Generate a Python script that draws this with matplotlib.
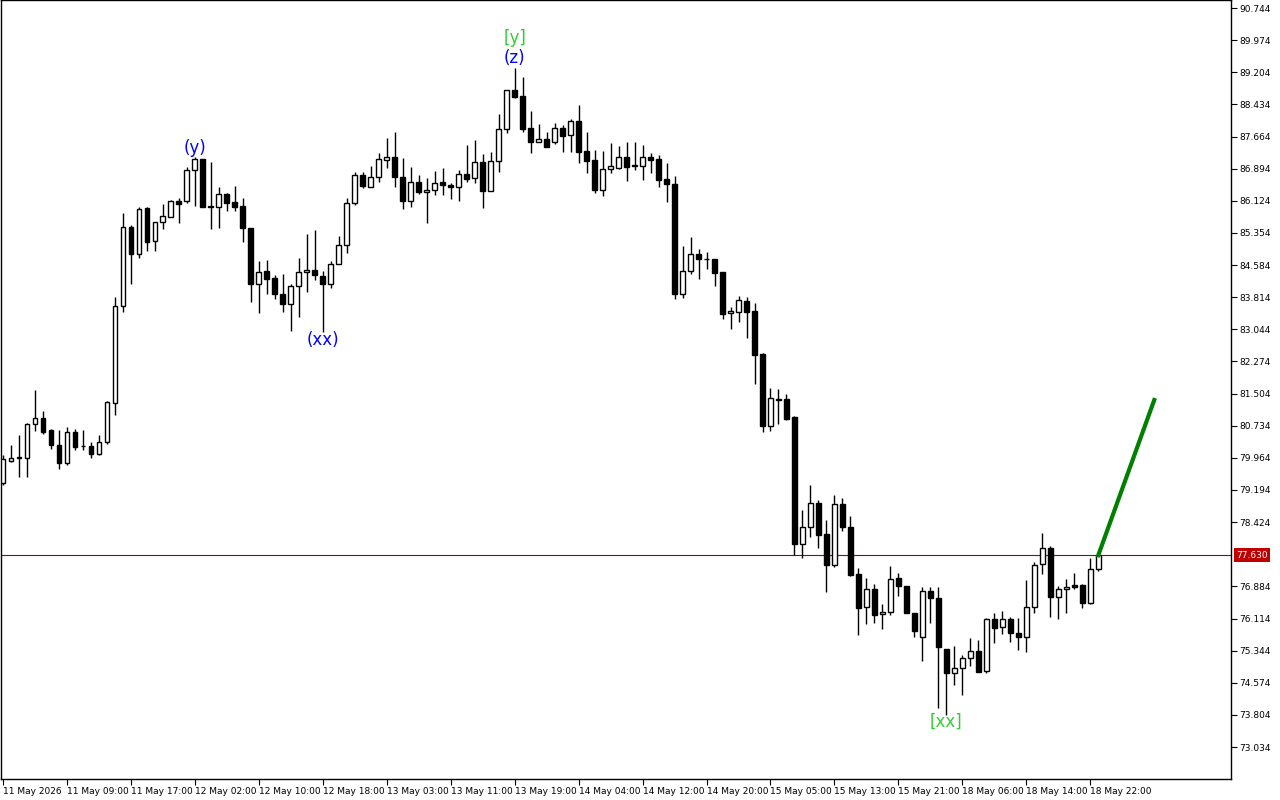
import matplotlib.pyplot as plt
import numpy as np

# OHLC data, one hourly candle per entry
opens = [79.36, 79.89, 79.98, 79.96, 80.78, 80.92, 80.63, 80.27, 79.84, 80.58,
         80.26, 80.25, 80.06, 80.34, 81.28, 83.60, 85.50, 84.85, 85.95, 85.16,
         85.62, 85.74, 86.12, 86.12, 86.86, 87.13, 85.99, 85.98, 86.29, 86.10,
         86.00, 85.47, 84.13, 84.44, 84.27, 83.89, 83.65, 84.08, 84.42, 84.47,
         84.32, 84.13, 84.61, 85.07, 86.07, 86.74, 86.45, 86.69, 87.10, 87.17,
         86.69, 86.12, 86.57, 86.34, 86.38, 86.57, 86.50, 86.45, 86.77, 86.67,
         87.05, 86.36, 87.08, 87.84, 88.78, 88.64, 87.87, 87.53, 87.60, 87.53,
         87.87, 87.70, 88.04, 87.32, 87.10, 86.38, 86.89, 86.91, 87.17, 86.97,
         86.96, 87.17, 87.13, 86.65, 86.53, 83.89, 84.44, 84.85, 84.74, 84.73,
         84.42, 83.43, 83.46, 83.72, 83.48, 82.45, 80.73, 81.38, 81.37, 80.94,
         77.90, 78.31, 78.88, 78.14, 77.40, 78.86, 78.31, 77.18, 76.39, 76.82,
         76.22, 76.27, 77.09, 76.89, 76.25, 75.67, 76.77, 76.61, 75.38, 74.81,
         74.93, 75.17, 75.34, 74.86, 76.10, 75.91, 76.10, 75.77, 75.67, 76.39,
         77.42, 77.80, 76.63, 76.82, 76.92, 76.92, 76.49, 77.30]
closes = [79.94, 79.96, 79.96, 80.78, 80.92, 80.58, 80.27, 79.84, 80.58, 80.22,
          80.24, 80.06, 80.34, 81.30, 83.60, 85.50, 84.85, 85.93, 85.14, 85.62,
          85.76, 86.12, 86.05, 86.86, 87.13, 85.98, 85.97, 86.29, 86.07, 85.98,
          85.47, 84.13, 84.42, 84.25, 83.89, 83.65, 84.08, 84.42, 84.47, 84.35,
          84.13, 84.61, 85.07, 86.07, 86.74, 86.48, 86.69, 87.13, 87.17, 86.69,
          86.12, 86.57, 86.34, 86.38, 86.55, 86.50, 86.45, 86.77, 86.65, 87.05,
          86.36, 87.08, 87.84, 88.78, 88.61, 87.84, 87.53, 87.60, 87.41, 87.87,
          87.68, 88.04, 87.29, 87.08, 86.38, 86.89, 86.96, 87.17, 86.93, 86.95,
          87.17, 87.10, 86.62, 86.53, 83.89, 84.44, 84.85, 84.73, 84.72, 84.39,
          83.41, 83.48, 83.75, 83.46, 82.43, 80.73, 81.40, 81.36, 80.89, 77.90,
          78.31, 78.88, 78.11, 77.40, 78.86, 78.31, 77.16, 76.37, 76.82, 76.20,
          76.27, 77.06, 76.89, 76.25, 75.81, 76.77, 76.61, 75.43, 74.81, 74.93,
          75.17, 75.34, 74.83, 76.10, 75.89, 76.10, 75.77, 75.67, 76.39, 77.40,
          77.80, 76.63, 76.82, 76.87, 76.87, 76.49, 77.30, 77.63]
highs = [80.03, 80.27, 80.51, 80.80, 81.59, 81.09, 80.66, 80.63, 80.70, 80.66,
         80.63, 80.34, 80.51, 81.33, 83.82, 85.83, 85.54, 85.98, 85.98, 85.62,
         86.05, 86.14, 86.19, 86.93, 87.17, 87.13, 87.06, 86.45, 86.31, 86.48,
         86.19, 85.47, 84.68, 84.70, 84.35, 84.37, 84.13, 84.75, 85.33, 85.42,
         84.44, 84.68, 85.28, 86.19, 86.81, 86.81, 86.96, 87.27, 87.63, 87.77,
         87.15, 86.93, 86.74, 86.67, 86.84, 86.91, 86.55, 86.86, 87.46, 87.58,
         87.25, 87.29, 88.20, 88.78, 89.31, 89.09, 88.28, 87.96, 87.77, 87.99,
         87.94, 88.08, 88.42, 87.77, 87.34, 87.32, 87.51, 87.44, 87.53, 87.53,
         87.46, 87.27, 87.22, 87.03, 86.72, 85.04, 85.26, 84.97, 84.90, 84.73,
         84.42, 83.58, 83.84, 83.82, 83.67, 82.48, 81.63, 81.61, 81.49, 80.97,
         78.71, 79.31, 78.95, 78.47, 79.07, 79.00, 78.57, 77.32, 77.09, 76.94,
         76.46, 77.37, 77.20, 76.89, 76.25, 76.87, 76.87, 76.87, 75.38, 75.46,
         75.24, 75.65, 75.60, 76.13, 76.25, 76.29, 76.15, 76.13, 77.04, 77.47,
         78.16, 77.85, 76.89, 77.06, 77.20, 76.94, 77.56, 77.66]
lows = [79.31, 79.87, 79.51, 79.51, 80.61, 80.54, 80.18, 79.70, 79.79, 80.15,
        80.15, 79.96, 80.03, 80.30, 80.99, 83.46, 84.13, 84.75, 84.92, 84.92,
        85.45, 85.74, 85.59, 86.07, 86.00, 85.98, 85.45, 85.47, 85.88, 85.88,
        85.14, 83.70, 83.44, 83.89, 83.77, 83.46, 83.00, 83.34, 83.94, 84.23,
        82.98, 84.03, 84.61, 84.87, 86.02, 86.43, 86.45, 86.57, 86.91, 86.45,
        85.93, 85.98, 86.29, 85.59, 86.26, 86.26, 86.17, 86.12, 86.57, 86.55,
        85.95, 86.36, 86.81, 87.75, 88.59, 87.77, 87.27, 87.53, 87.41, 87.49,
        87.29, 87.29, 87.03, 86.79, 86.31, 86.24, 86.79, 86.89, 86.60, 86.86,
        86.62, 86.79, 86.45, 86.10, 83.77, 83.80, 84.37, 84.25, 84.49, 84.08,
        83.29, 83.05, 83.22, 82.84, 81.73, 80.58, 80.61, 80.78, 80.87, 77.64,
        77.56, 78.07, 77.80, 76.75, 77.35, 78.21, 77.13, 75.72, 75.98, 76.01,
        75.86, 76.20, 76.65, 76.25, 75.67, 75.10, 76.01, 73.97, 73.80, 74.52,
        74.28, 74.98, 74.83, 74.81, 75.53, 75.74, 75.55, 75.36, 75.31, 76.25,
        77.18, 76.15, 76.10, 76.25, 76.82, 76.37, 76.46, 77.25]

time_labels = ['11 May 2026', '11 May 09:00', '11 May 17:00', '12 May 02:00',
               '12 May 10:00', '12 May 18:00', '13 May 03:00', '13 May 11:00',
               '13 May 19:00', '14 May 04:00', '14 May 12:00', '14 May 20:00',
               '15 May 05:00', '15 May 13:00', '15 May 21:00', '18 May 06:00',
               '18 May 14:00', '18 May 22:00']
label_step = 8

# 77.654 is hidden behind the current price label in the original
price_ticks = [73.034, 73.804, 74.574, 75.344, 76.114, 76.884, 78.424,
               79.194, 79.964, 80.734, 81.504, 82.274, 83.044, 83.814, 84.584,
               85.354, 86.124, 86.894, 87.664, 88.434, 89.204, 89.974, 90.744]
current_price = 77.630

# wave labels: (text, candle index, price, colour)
wave_labels = [('(y)', 24, 87.39, '#0000ff'),
               ('(xx)', 40, 82.79, '#0000ff'),
               ('(z)', 64, 89.55, '#0000ff'),
               ('[y]', 64, 90.03, '#32cd32'),
               ('[xx]', 118, 73.63, '#32cd32')]

# projection line
proj_x = [137, 144]
proj_y = [77.63, 81.35]

fig = plt.figure(figsize=(12.8, 8), dpi=100)
ax = fig.add_axes([1 / 1280, 21 / 800, 1230 / 1280, 779 / 800])

x = np.arange(len(opens))
o = np.array(opens)
c = np.array(closes)
up = c >= o

ax.vlines(x, lows, highs, color='black', linewidth=1, zorder=2)
ax.bar(x[up], c[up] - o[up], bottom=o[up], width=0.6, facecolor='white',
       edgecolor='black', linewidth=1, zorder=3)
ax.bar(x[~up], c[~up] - o[~up], bottom=o[~up], width=0.6, facecolor='black',
       edgecolor='black', linewidth=1, zorder=3)

ax.axhline(current_price, color='#a00000', linewidth=0.8, zorder=1)
ax.plot(proj_x, proj_y, color='#008000', linewidth=3, zorder=4)

for txt, xi, yv, col in wave_labels:
    ax.text(xi, yv, txt, color=col, fontsize=12, ha='center', va='center')

ax.set_xlim(-0.25, 153.6)
ax.set_ylim(72.268, 90.936)

ax.yaxis.tick_right()
ax.set_yticks(price_ticks)
ax.set_yticklabels(['%.3f' % v for v in price_ticks])
ax.tick_params(axis='y', direction='out', length=4, labelsize=6.5, pad=2)

ax.set_xticks(np.arange(len(time_labels)) * label_step)
ax.set_xticklabels(time_labels, ha='left')
ax.tick_params(axis='x', direction='out', length=4, labelsize=6.5, pad=2)

ax.text(1.004, current_price, '%.3f' % current_price, transform=ax.get_yaxis_transform(),
        color='white', fontsize=6.5, va='center', ha='left',
        bbox=dict(boxstyle='square,pad=0.25', facecolor='#c00000', edgecolor='none'))

for s in ax.spines.values():
    s.set_color('black')
    s.set_linewidth(1)

plt.savefig('out.png', dpi=100)
